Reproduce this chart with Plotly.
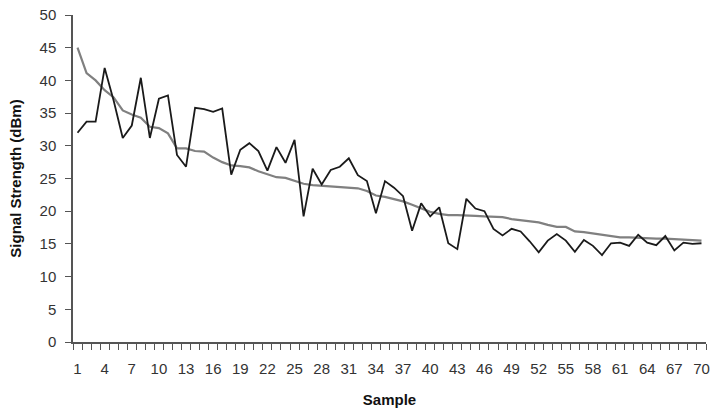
import plotly.graph_objects as go

samples = list(range(1, 71))
measured = [32.0, 33.7, 33.7, 41.9, 36.9, 31.2, 33.1, 40.4, 31.2, 37.2,
            37.7, 28.6, 26.8, 35.8, 35.6, 35.2, 35.7, 25.6, 29.4, 30.4,
            29.2, 26.2, 29.8, 27.4, 30.9, 19.2, 26.5, 24.1, 26.3, 26.8,
            28.1, 25.5, 24.6, 19.7, 24.6, 23.6, 22.3, 17.0, 21.2, 19.2,
            20.6, 15.1, 14.2, 21.9, 20.4, 20.0, 17.3, 16.3, 17.3, 16.9,
            15.4, 13.7, 15.5, 16.5, 15.5, 13.8, 15.6, 14.7, 13.3, 15.1,
            15.2, 14.7, 16.4, 15.2, 14.8, 16.2, 14.0, 15.2, 15.0, 15.1]
trend = [45.0, 41.1, 40.0, 38.5, 37.4, 35.4, 34.8, 34.3, 32.9, 32.7,
         31.9, 29.6, 29.6, 29.2, 29.1, 28.2, 27.5, 27.0, 26.9, 26.7,
         26.1, 25.6, 25.2, 25.1, 24.7, 24.2, 24.0, 23.9, 23.7, 23.7,
         23.6, 23.5, 23.1, 22.4, 22.2, 21.9, 21.5, 21.0, 20.5, 19.9,
         19.6, 19.4, 19.4, 19.4, 19.3, 19.2, 19.1, 19.1, 18.8, 18.6,
         18.4, 18.3, 17.9, 17.6, 17.6, 16.9, 16.8, 16.6, 16.4, 16.3,
         16.0, 16.0, 15.9, 15.9, 15.8, 15.8, 15.7, 15.7, 15.6, 15.5]
x_ticks = list(range(1, 71, 3))
y_ticks = list(range(0, 51, 5))

fig = go.Figure()
fig.add_trace(go.Scatter(x=samples, y=trend, mode="lines",
                         line=dict(color="#808080", width=2.2), showlegend=False))
fig.add_trace(go.Scatter(x=samples, y=measured, mode="lines",
                         line=dict(color="#1a1a1a", width=1.8), showlegend=False))

font = "Liberation Sans, Arial, sans-serif"
fig.update_layout(
    width=712, height=412,
    margin=dict(l=73, r=2, t=15, b=70),
    plot_bgcolor="white", paper_bgcolor="white",
    font=dict(family=font, size=15, color="#333"),
    xaxis=dict(
        range=[0.5, 70.5], tickvals=x_ticks, ticktext=[str(v) for v in x_ticks],
        ticks="", showgrid=False, zeroline=False,
        showline=True, linecolor="#555", linewidth=1.5,
        ticklabeloverflow="allow", ticklabelstandoff=12,
        minor=dict(tick0=0.5, dtick=1, ticks="outside", ticklen=6,
                   tickcolor="#555", tickwidth=1, showgrid=False),
        tickfont=dict(size=15, color="#333"),
        title=dict(text="<b>Sample</b>", font=dict(size=15, color="#111"), standoff=19),
    ),
    yaxis=dict(
        range=[0, 50], tickvals=y_ticks, ticks="outside", ticklen=6,
        tickcolor="#555", tickwidth=1, showgrid=False, zeroline=False,
        showline=True, linecolor="#555", linewidth=1.5,
        ticklabelstandoff=6,
        tickfont=dict(size=15, color="#333"),
        title=dict(text="<b>Signal Strength (dBm)</b>", font=dict(size=15, color="#111"), standoff=14),
    ),
)
fig.write_html("out.html")
